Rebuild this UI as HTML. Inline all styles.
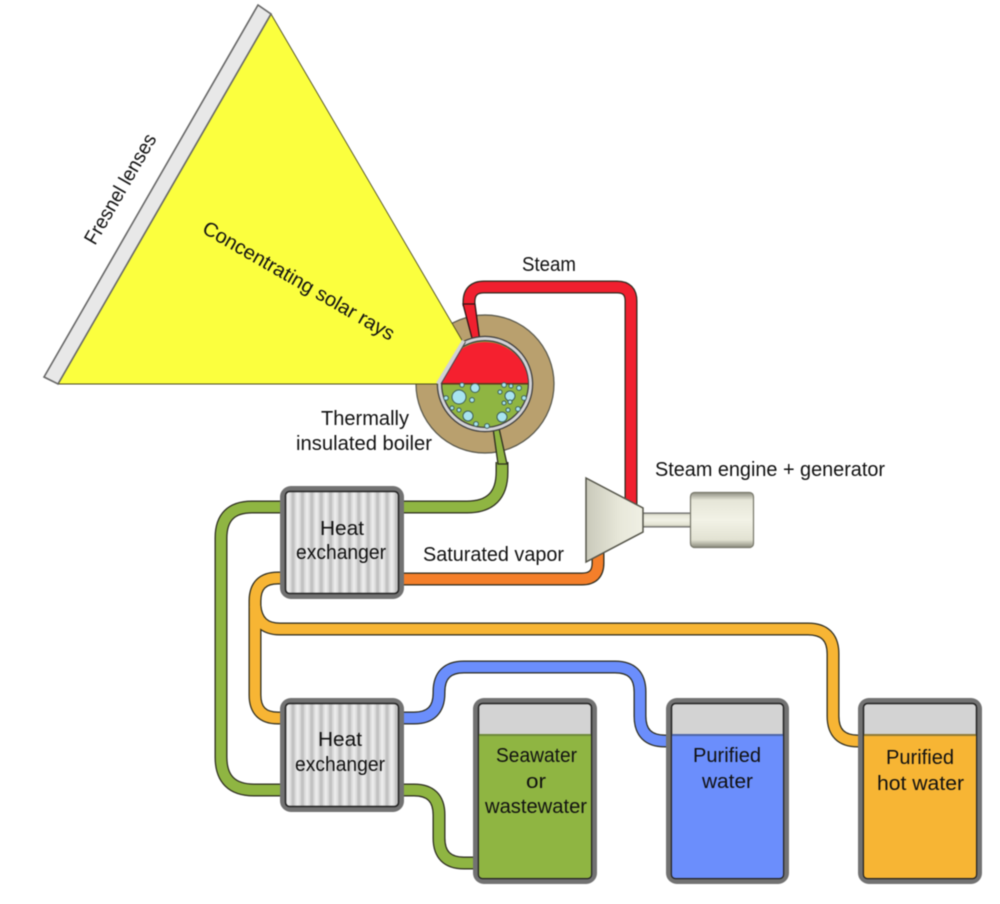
<!DOCTYPE html>
<html><head><meta charset="utf-8"><style>
html,body{margin:0;padding:0;background:#fff}
svg{display:block;filter:blur(.55px)}
text{font-family:"Liberation Sans",sans-serif;font-size:20px;fill:#111}
.o{fill:none;stroke:#2b2b1f;stroke-width:13}
.i{fill:none;stroke-width:10.5}
.g{stroke:#8fb542}.r{stroke:#f0202f}.b{stroke:#6b8efc}.y{stroke:#f7b534}.n{stroke:#f47f2a}
</style></head><body>
<svg width="1000" height="904" viewBox="0 0 1000 904" xmlns="http://www.w3.org/2000/svg">
<defs>
<pattern id="st" width="9.4" height="10" patternUnits="userSpaceOnUse">
<rect width="9.4" height="10" fill="#dcdcdc"/><rect x="0" width="3.2" height="10" fill="#c2c2c2"/><rect x="5" width="2.6" height="10" fill="#ebebeb"/>
</pattern>
<linearGradient id="iv" x1="0" y1="0" x2="0" y2="1"><stop offset="0" stop-color="#8f8f82"/><stop offset=".14" stop-color="#e6e6d8"/><stop offset=".5" stop-color="#f2f2e6"/><stop offset=".86" stop-color="#e2e2d2"/><stop offset="1" stop-color="#8a8a7c"/></linearGradient>
<linearGradient id="cn" x1="0" y1="0" x2="1" y2="0"><stop offset="0" stop-color="#c9c9ba"/><stop offset=".6" stop-color="#e8e8da"/><stop offset="1" stop-color="#f0f0e4"/></linearGradient>
</defs>
<rect width="1000" height="904" fill="#fff"/>

<path class="o" d="M469 306V302Q469 287 484 287H617Q631 287 631 301V510"/>
<path class="i r" d="M469 306V302Q469 287 484 287H617Q631 287 631 301V510"/>
<path class="o" d="M502 462V472Q502 507 467 507H400"/>
<path class="i g" d="M502 462V472Q502 507 467 507H400"/>
<path class="o" d="M285 507H252Q221 507 221 538V757Q221 790 254 790H285"/>
<path class="i g" d="M285 507H252Q221 507 221 538V757Q221 790 254 790H285"/>
<path class="o" d="M400 579H582Q598 579 598 563V550"/>
<path class="i n" d="M400 579H582Q598 579 598 563V550"/>
<path class="o" d="M285 578H278Q255 578 255 601V695Q255 718 278 718H285"/>
<path class="o" d="M255 606Q257 629 280 629H808Q833 629 833 654V716Q833 741 858 741H862"/>
<path class="i y" d="M285 578H278Q255 578 255 601V695Q255 718 278 718H285"/>
<path class="i y" d="M255 606Q257 629 280 629H808Q833 629 833 654V716Q833 741 858 741H862"/>
<path class="o" d="M400 718H414Q439 718 439 693V692Q439 667 464 667H615Q640 667 640 692V716Q640 741 665 741H670"/>
<path class="i b" d="M400 718H414Q439 718 439 693V692Q439 667 464 667H615Q640 667 640 692V716Q640 741 665 741H670"/>
<path class="o" d="M400 790H414Q439 790 439 815V838Q439 863 464 863H477"/>
<path class="i g" d="M400 790H414Q439 790 439 815V838Q439 863 464 863H477"/>

<circle cx="485" cy="384" r="69" fill="#b9a06e" stroke="#55554a" stroke-width="1.2"/>
<polygon points="463,304 475,304 480,342 473,342" fill="#f0202f" stroke="#2b1515" stroke-width="1.3"/>
<polygon points="493,428 499,428 507,464 498,464" fill="#8fb542" stroke="#2b2b1f" stroke-width="1.3"/>
<circle cx="485" cy="384" r="45.500" fill="#8fb542" stroke="#3d3d3d" stroke-width="5.500"/>
<circle cx="485" cy="384" r="45.500" fill="none" stroke="#d2d2d6" stroke-width="3"/>
<path d="M442 384A43 42 0 0 1 528 384Z" fill="#f5202f"/>
<rect x="442" y="383" width="86" height="1.6" fill="#5a3a1a"/>
<g fill="#a8e4ef" stroke="#3d5f5a" stroke-width="1">
<circle cx="459" cy="397" r="7"/><circle cx="475" cy="388" r="4.5"/><circle cx="510" cy="396" r="5"/><circle cx="468" cy="416" r="5"/><circle cx="502" cy="417" r="5"/>
<circle cx="462" cy="385" r="2.200"/><circle cx="446" cy="398" r="2.300"/><circle cx="452" cy="408" r="2"/><circle cx="459" cy="410" r="2"/><circle cx="472" cy="400" r="2.400"/><circle cx="476" cy="424" r="2.400"/><circle cx="487" cy="426" r="2.400"/><circle cx="504" cy="385" r="2.400"/><circle cx="511" cy="386" r="2"/><circle cx="519" cy="388" r="2.400"/><circle cx="500" cy="392" r="2"/><circle cx="524" cy="398" r="2.400"/><circle cx="504" cy="403" r="2"/><circle cx="510" cy="402" r="2"/><circle cx="518" cy="409" r="2.400"/><circle cx="508" cy="410" r="2"/>
</g>

<polygon points="271,14 463,342 438,384 58,384" fill="#fbff3e" stroke="#4a4a20" stroke-width=".9"/>
<polygon points="258,5 271,14 58,384 44,377" fill="#e8e8e8" stroke="#666" stroke-width="1.6"/>
<path d="M464 341L438 384" stroke="#d2d2d6" stroke-width="4.500" fill="none"/>
<path d="M465.500 342L441 384" stroke="#444" stroke-width="1" fill="none"/>

<rect x="642" y="513" width="50" height="14" fill="url(#iv)" stroke="#666" stroke-width="1"/>
<polygon points="586,478 643,508 643,532 586,562" fill="url(#cn)" stroke="#55554a" stroke-width="1.5"/>
<rect x="690.500" y="492.500" width="63" height="55" rx="4" fill="url(#iv)" stroke="#77776a" stroke-width="1.200"/>

<rect x="280" y="486" width="124" height="113" rx="11" fill="#727272"/>
<rect x="285.500" y="491.500" width="113" height="102" rx="4" fill="url(#st)" stroke="#222" stroke-width="1.500"/>
<rect x="280" y="698" width="124" height="114" rx="11" fill="#727272"/>
<rect x="285.500" y="703.500" width="113" height="103" rx="4" fill="url(#st)" stroke="#222" stroke-width="1.500"/>

<rect x="473" y="698" width="124" height="186" rx="11" fill="#727272"/>
<rect x="478.500" y="703.500" width="113" height="175" rx="4" fill="#d3d3d3" stroke="#222" stroke-width="1.500"/>
<path d="M479 735H591V874Q591 878 587 878H483Q479 878 479 874Z" fill="#8fb542"/>
<rect x="479" y="734" width="112" height="2" fill="#6e8a3a"/>
<rect x="666" y="698" width="123" height="186" rx="11" fill="#727272"/>
<rect x="671.500" y="703.500" width="112" height="175" rx="4" fill="#d3d3d3" stroke="#222" stroke-width="1.500"/>
<path d="M672 735H783V874Q783 878 779 878H676Q672 878 672 874Z" fill="#6b8efc"/>
<rect x="672" y="734" width="111" height="2" fill="#4d66a8"/>
<rect x="858" y="698" width="124" height="186" rx="11" fill="#727272"/>
<rect x="863.500" y="703.500" width="113" height="175" rx="4" fill="#d3d3d3" stroke="#222" stroke-width="1.500"/>
<path d="M864 735H976V874Q976 878 972 878H868Q864 878 864 874Z" fill="#f7b534"/>
<rect x="864" y="734" width="112" height="2" fill="#8f7a35"/>

<text x="522" y="271" textLength="54" lengthAdjust="spacingAndGlyphs">Steam</text>
<text x="321" y="425" textLength="88" lengthAdjust="spacingAndGlyphs">Thermally</text>
<text x="296" y="450" textLength="136" lengthAdjust="spacingAndGlyphs">insulated boiler</text>
<text x="655" y="476" textLength="230" lengthAdjust="spacingAndGlyphs">Steam engine + generator</text>
<text x="423" y="561" textLength="141" lengthAdjust="spacingAndGlyphs">Saturated vapor</text>
<text x="320" y="535" textLength="44" lengthAdjust="spacingAndGlyphs">Heat</text>
<text x="296" y="559" textLength="90" lengthAdjust="spacingAndGlyphs">exchanger</text>
<text x="318" y="746" textLength="44" lengthAdjust="spacingAndGlyphs">Heat</text>
<text x="295" y="771" textLength="90" lengthAdjust="spacingAndGlyphs">exchanger</text>
<text x="496" y="762" textLength="81" lengthAdjust="spacingAndGlyphs">Seawater</text>
<text x="526" y="788" textLength="20" lengthAdjust="spacingAndGlyphs">or</text>
<text x="485" y="813" textLength="102" lengthAdjust="spacingAndGlyphs">wastewater</text>
<text x="693" y="762" textLength="68" lengthAdjust="spacingAndGlyphs">Purified</text>
<text x="702" y="788" textLength="51" lengthAdjust="spacingAndGlyphs">water</text>
<text x="886" y="764" textLength="68" lengthAdjust="spacingAndGlyphs">Purified</text>
<text x="877" y="790" textLength="87" lengthAdjust="spacingAndGlyphs">hot water</text>
<text transform="translate(95 246) rotate(-60)" textLength="124" lengthAdjust="spacingAndGlyphs">Fresnel lenses</text>
<text transform="translate(201 232) rotate(30)" textLength="218" lengthAdjust="spacingAndGlyphs">Concentrating solar rays</text>
</svg>
</body></html>
